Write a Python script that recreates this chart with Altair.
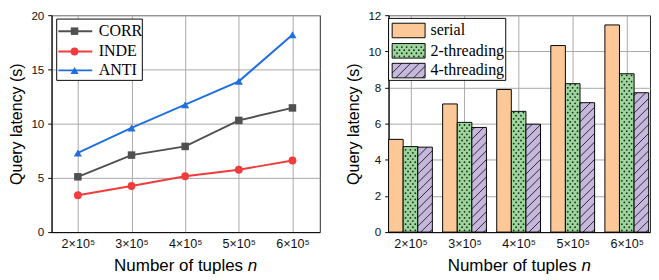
import json
import numpy as np
import pandas as pd
import altair as alt

# ---------------- data ----------------
tuple_labels = ["2×10⁵", "3×10⁵", "4×10⁵", "5×10⁵", "6×10⁵"]
series_names = ["CORR", "INDE", "ANTI"]
corr_values = [5.1, 7.1, 7.9, 10.3, 11.45]
inde_values = [3.4, 4.25, 5.15, 5.75, 6.6]
anti_values = [7.3, 9.6, 11.75, 13.9, 18.2]
method_names = ["serial", "2-threading", "4-threading"]
serial_values = [5.13, 7.09, 7.89, 10.32, 11.46]
thread2_values = [4.73, 6.07, 6.68, 8.21, 8.76]
thread4_values = [4.70, 5.79, 5.97, 7.16, 7.71]
left_y_ticks = [0, 5, 10, 15, 20]
right_y_ticks = [0, 2, 4, 6, 8, 10, 12]

# ---------------- styles / layout ----------------
line_colors = ["#505050", "#f03c3c", "#1f6fe0"]
marker_shapes = ["square", "circle", "triangle-up"]
marker_sizes = [60, 70, 85]
bar_colors = ["#fdc897", "#9cd69c", "#c6b8dc"]
LW, LH = 277, 224
RW, RH = 270, 224
L_XDOM = [-0.49, 4.51]
BAR_W = 0.27
R_XDOM = [-1.5 * BAR_W, 4 + 1.5 * BAR_W + 0.025]
L_YMAX, R_YMAX = 20, 12
SANS = "Liberation Sans"
SERIF = "Liberation Serif"
TITLE_FS = 17.5
LEG_FS = 16.5
GRID = "#a6a6a6"

label_expr = json.dumps(tuple_labels, ensure_ascii=False) + "[datum.value]"
n_cat = len(tuple_labels)


def x_axis():
    return alt.Axis(values=list(range(n_cat)), labelExpr=label_expr, title=None,
                    ticks=False, grid=True, gridColor=GRID, labelPadding=6,
                    labelFontSize=13, labelFont=SANS, labelColor="#111",
                    domainColor="black")


def y_axis(vals):
    return alt.Axis(values=vals, title="Query latency (s)", tickSize=4,
                    tickColor="black", labelPadding=4, titlePadding=7,
                    grid=True, gridColor=GRID, labelFontSize=12, labelFont=SANS,
                    labelColor="#111", titleFont=SANS, titleFontSize=16.5,
                    titleFontWeight="normal", titleColor="black",
                    domainColor="black", labelOverlap=False)


def x_title_layers(width, height):
    fs = TITLE_FS
    w_main = 7.614 * fs
    w_space = 0.278 * fs
    w_n = 0.556 * fs
    start = width / 2 - (w_main + w_space + w_n) / 2
    one = pd.DataFrame({"a": [0]})
    main = alt.Chart(one).mark_text(text="Number of tuples", align="left",
                                    baseline="alphabetic", font=SANS, fontSize=fs,
                                    color="black").encode(
        x=alt.value(start), y=alt.value(height + 40))
    nn = alt.Chart(one).mark_text(text="n", align="left", baseline="alphabetic",
                                  font=SANS, fontSize=fs, fontStyle="italic",
                                  color="black").encode(
        x=alt.value(start + w_main + w_space), y=alt.value(height + 40))
    return [main, nn]


# ---------------- left chart ----------------
left_df = pd.DataFrame({
    "idx": list(range(n_cat)) * 3,
    "v": corr_values + inde_values + anti_values,
    "s": sum([[s] * n_cat for s in series_names], []),
})
cscale = alt.Scale(domain=series_names, range=line_colors)
sscale = alt.Scale(domain=series_names, range=marker_shapes)
zscale = alt.Scale(domain=series_names, range=marker_sizes)
lxs = alt.Scale(domain=L_XDOM, nice=False, zero=False)
lys = alt.Scale(domain=[0, L_YMAX], nice=False)
LX = alt.X("idx:Q", scale=lxs, axis=x_axis())
LY = alt.Y("v:Q", scale=lys, axis=y_axis(left_y_ticks))

lines = alt.Chart(left_df).mark_line(strokeWidth=2).encode(
    x=LX, y=LY, color=alt.Color("s:N", scale=cscale, legend=None), detail="s:N")
points = alt.Chart(left_df).mark_point(filled=True, opacity=1).encode(
    x=LX, y=LY,
    color=alt.Color("s:N", scale=cscale, legend=None),
    shape=alt.Shape("s:N", scale=sscale, legend=None),
    size=alt.Size("s:N", scale=zscale, legend=None))

# legend (pixel positions relative to plot)
leg_l = pd.DataFrame({"s": series_names, "ly": [16.5, 37.5, 57.0]})
one = pd.DataFrame({"a": [0]})
l_box = alt.Chart(one).mark_rect(fill="white", stroke="black", strokeWidth=1).encode(
    x=alt.value(5.3), x2=alt.value(93.7), y=alt.value(4), y2=alt.value(67.3))
l_rules = alt.Chart(leg_l).mark_rule(strokeWidth=2).encode(
    x=alt.value(7), x2=alt.value(42), y=alt.Y("ly:Q", scale=None),
    color=alt.Color("s:N", scale=cscale, legend=None))
l_pts = alt.Chart(leg_l).mark_point(filled=True, opacity=1).encode(
    x=alt.value(23.7), y=alt.Y("ly:Q", scale=None),
    color=alt.Color("s:N", scale=cscale, legend=None),
    shape=alt.Shape("s:N", scale=sscale, legend=None),
    size=alt.Size("s:N", scale=zscale, legend=None))
l_txt = alt.Chart(leg_l).mark_text(align="left", baseline="middle", font=SERIF,
                                   fontSize=LEG_FS, color="black").encode(
    x=alt.value(48.7), y=alt.Y("ly:Q", scale=None), text="s:N")

left = alt.layer(lines, points, l_box, l_rules, l_pts, l_txt,
                 *x_title_layers(LW, LH)).properties(width=LW, height=LH)

# ---------------- right chart ----------------
XS = RW / (R_XDOM[1] - R_XDOM[0])
YS = RH / R_YMAX
rows = []
for k, (m, vals) in enumerate(zip(method_names, [serial_values, thread2_values, thread4_values])):
    for i, v in enumerate(vals):
        x0 = i + (k - 1) * BAR_W - BAR_W / 2
        rows.append({"m": m, "x0": x0, "x1": x0 + BAR_W, "v": v})
bar_df = pd.DataFrame(rows)


def dots_px(w, h, dx=5.0, dy=3.2):
    pts = []
    r = 0
    y = 1.8
    while y < h - 1.0:
        x = 2.5 + (r % 2) * 2.5
        while x < w - 1.2:
            if x > 1.2:
                pts.append((x, y))
            x += dx
        y += dy
        r += 1
    return pts


def hatch_px(w, h, spacing=9.0):
    segs = []
    c = -w + 3.0
    while c < h:
        xs = max(0.0, -c)
        xe = w - max(0.0, c + w - h)
        if xe > xs + 0.3:
            segs.append((xs, c + xs, xe, c + xe))
        c += spacing
    return segs


dot_rows, hatch_rows = [], []
for _, b in bar_df.iterrows():
    wpx = (b.x1 - b.x0) * XS
    hpx = b.v * YS
    if b.m == method_names[1]:
        for (px, py) in dots_px(wpx, hpx):
            dot_rows.append({"x0": b.x0 + px / XS, "v": py / YS})
    if b.m == method_names[2]:
        for (xa, ya, xb, yb) in hatch_px(wpx, hpx):
            hatch_rows.append({"x0": b.x0 + xa / XS, "v": ya / YS,
                               "x2": b.x0 + xb / XS, "y2": yb / YS})
dot_df = pd.DataFrame(dot_rows)
hatch_df = pd.DataFrame(hatch_rows)

rxs = alt.Scale(domain=R_XDOM, nice=False, zero=False)
rys = alt.Scale(domain=[0, R_YMAX], nice=False)
mscale = alt.Scale(domain=method_names, range=bar_colors)
RX = alt.X("x0:Q", scale=rxs, axis=x_axis())
RY = alt.Y("v:Q", scale=rys, axis=y_axis(right_y_ticks))

bars = alt.Chart(bar_df).mark_bar(stroke="black", strokeWidth=1).encode(
    x=RX, x2="x1:Q", y=RY, y2=alt.datum(0),
    fill=alt.Fill("m:N", scale=mscale, legend=None))
dots = alt.Chart(dot_df).mark_circle(size=3.4, color="#1c2a1c", opacity=1).encode(
    x=RX, y=RY)
hatch = alt.Chart(hatch_df).mark_rule(color="black", strokeWidth=0.8).encode(
    x=RX, y=RY, x2="x2:Q", y2="y2:Q")

# legend (pixel positions relative to plot)
sw_x0, sw_x1, sw_h = 3.7, 37.7, 15.0
leg_r = pd.DataFrame({"m": method_names, "cy": [15.8, 36.8, 57.2]})
leg_r["y0"] = leg_r["cy"] - sw_h / 2
leg_r["y1"] = leg_r["cy"] + sw_h / 2
r_box = alt.Chart(one).mark_rect(fill="white", stroke="black", strokeWidth=1).encode(
    x=alt.value(0), x2=alt.value(121), y=alt.value(3.3), y2=alt.value(67.3))
r_sw = alt.Chart(leg_r).mark_rect(stroke="black", strokeWidth=1).encode(
    x=alt.value(sw_x0), x2=alt.value(sw_x1),
    y=alt.Y("y0:Q", scale=None), y2="y1:Q",
    fill=alt.Fill("m:N", scale=mscale, legend=None))
sw_dots, sw_hatch = [], []
for _, r in leg_r.iterrows():
    if r.m == method_names[1]:
        for (px, py) in dots_px(sw_x1 - sw_x0, sw_h):
            sw_dots.append({"px": sw_x0 + px, "py": r.y1 - py})
    if r.m == method_names[2]:
        for (xa, ya, xb, yb) in hatch_px(sw_x1 - sw_x0, sw_h):
            sw_hatch.append({"px": sw_x0 + xa, "py": r.y1 - ya,
                             "px2": sw_x0 + xb, "py2": r.y1 - yb})
r_swd = alt.Chart(pd.DataFrame(sw_dots)).mark_circle(size=3.4, color="#1c2a1c", opacity=1).encode(
    x=alt.X("px:Q", scale=None), y=alt.Y("py:Q", scale=None))
r_swh = alt.Chart(pd.DataFrame(sw_hatch)).mark_rule(color="black", strokeWidth=0.8).encode(
    x=alt.X("px:Q", scale=None), y=alt.Y("py:Q", scale=None),
    x2="px2:Q", y2="py2:Q")
r_txt = alt.Chart(leg_r).mark_text(align="left", baseline="middle", font=SERIF,
                                   fontSize=LEG_FS, color="black").encode(
    x=alt.value(43.3), y=alt.Y("cy:Q", scale=None), text="m:N")

right = alt.layer(bars, dots, hatch, r_box, r_sw, r_swd, r_swh, r_txt,
                  *x_title_layers(RW, RH)).properties(width=RW, height=RH)

chart = alt.hconcat(left, right, spacing=25).properties(
    padding={"left": 0, "top": -4, "right": 0, "bottom": 0}
).configure_view(stroke="#222", strokeWidth=1)

chart.save("out.html", embed_options={"renderer": "svg", "actions": False})
